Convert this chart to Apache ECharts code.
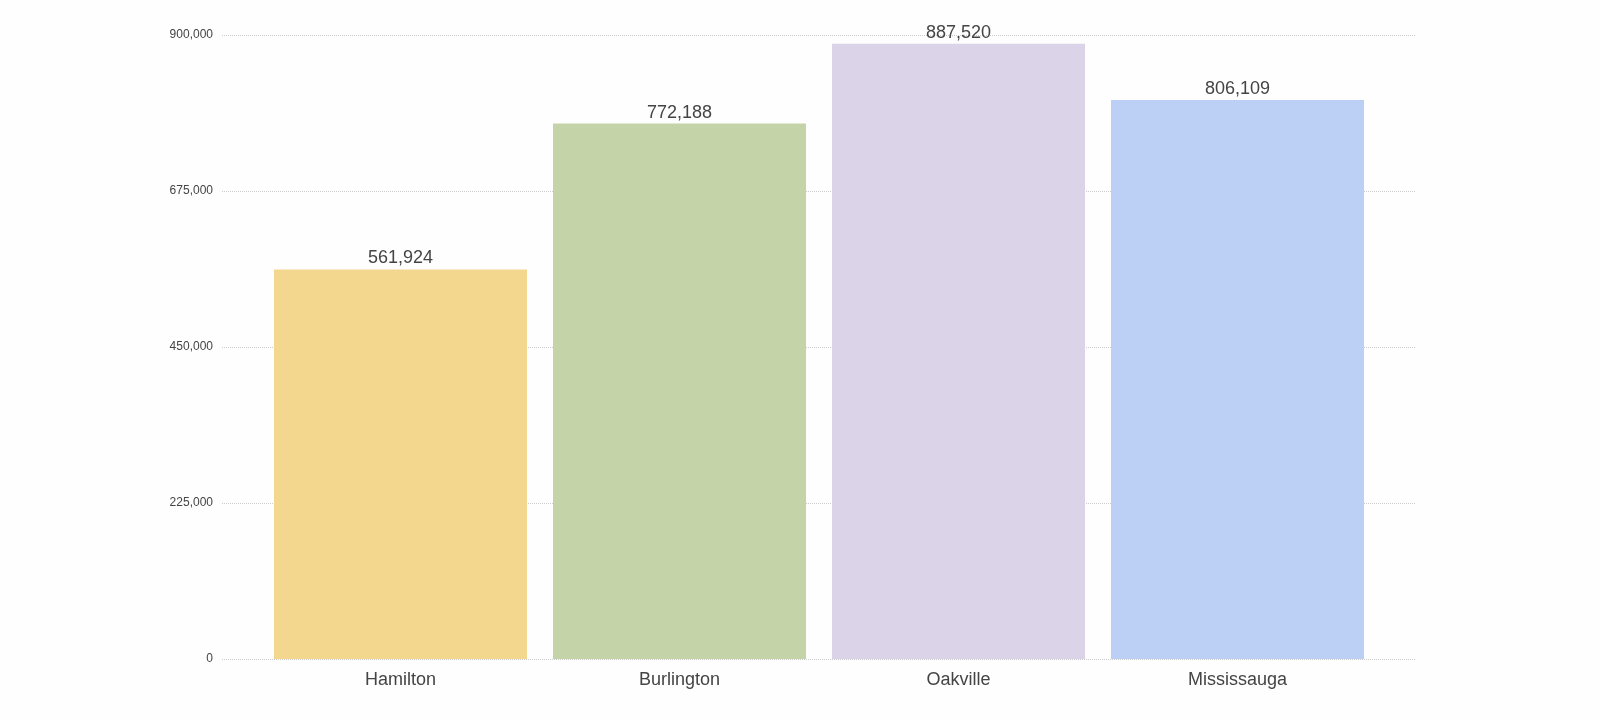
<!DOCTYPE html>
<html><head><meta charset="utf-8">
<script src="https://cdn.jsdelivr.net/npm/echarts@6/dist/echarts.min.js"></script>
<style>html,body{margin:0;padding:0;background:#fefefe}#c{width:1600px;height:720px}</style>
</head><body><div id="c"></div>
<script>
const categories = ['Hamilton','Burlington','Oakville','Mississauga'];
const values = [561924, 772188, 887520, 806109];
const colors = ['#f3d78f','#c4d4a8','#dbd3e8','#bccff5'];
const yTicks = [0, 225000, 450000, 675000, 900000];

const chart = echarts.init(document.getElementById('c'));
const fmt = v => v.toLocaleString('en-US');
chart.setOption({
  backgroundColor: '#fefefe',
  grid: [
    {left: 222, right: 185, top: 35, bottom: 61},
    {left: 261, right: 223, top: 35, bottom: 61}
  ],
  xAxis: [
    {type: 'category', gridIndex: 0, data: categories, show: false},
    {type: 'category', gridIndex: 1, data: categories,
     axisLine: {show: false}, axisTick: {show: false},
     axisLabel: {fontSize: 18, color: '#444', margin: 12, fontFamily: 'Liberation Sans'}}
  ],
  yAxis: [
    {type: 'value', gridIndex: 0, min: yTicks[0], max: yTicks[4], interval: 225000,
     axisLabel: {formatter: fmt, fontSize: 12, color: '#444', margin: 9, fontFamily: 'Liberation Sans'},
     splitLine: {lineStyle: {color: '#ccc', type: 'dotted', width: 1}},
     axisLine: {show: false}, axisTick: {show: false}},
    {type: 'value', gridIndex: 1, min: 0, max: 900000, show: false, splitLine: {show: false}}
  ],
  series: [{
    type: 'bar', xAxisIndex: 1, yAxisIndex: 1,
    data: values.map((v, i) => ({value: v, itemStyle: {color: colors[i]}})),
    barWidth: 253,
    label: {show: true, position: 'top', formatter: p => fmt(p.value), fontSize: 18, color: '#444', distance: 2, fontFamily: 'Liberation Sans'}
  }]
});
</script></body></html>
